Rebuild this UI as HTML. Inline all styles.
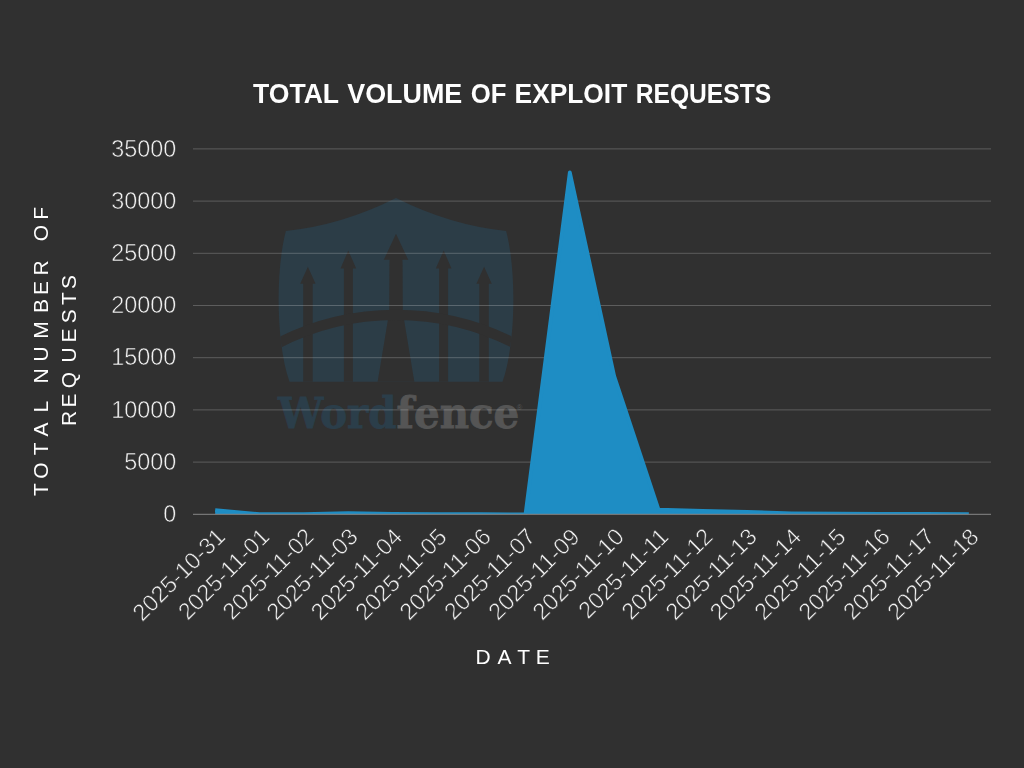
<!DOCTYPE html>
<html><head><meta charset="utf-8"><style>
html,body{margin:0;padding:0;background:#303030;}
svg{display:block}
.yl{font-family:"Liberation Sans",sans-serif;font-size:23.4px;fill:#f2f2f2;stroke:#303030;stroke-width:0.55px;paint-order:fill stroke}
.xl{font-family:"Liberation Sans",sans-serif;font-size:23.3px;fill:#f2f2f2;stroke:#303030;stroke-width:0.55px;paint-order:fill stroke}
.t{font-family:"Liberation Sans",sans-serif;font-size:27px;font-weight:bold;fill:#ffffff}
.at{font-family:"Liberation Sans",sans-serif;font-size:21px;fill:#ffffff}
</style></head><body>
<svg width="1024" height="768" viewBox="0 0 1024 768">
<rect width="1024" height="768" fill="#303030"/>
<g id="wm" opacity="0.999">
<clipPath id="sc"><path d="M285.9,231 Q341.3,225.5 396,198.1 Q450.7,225.5 506.1,231 C516.2,268 516.5,342 502.5,381.8 L289.5,381.8 C275.5,342 275.8,268 285.9,231 Z"/></clipPath><path d="M285.9,231 Q341.3,225.5 396,198.1 Q450.7,225.5 506.1,231 C516.2,268 516.5,342 502.5,381.8 L289.5,381.8 C275.5,342 275.8,268 285.9,231 Z" fill="#2c3d47"/>
<g clip-path="url(#sc)"><g fill="#303030">
<path d="M307.9,266.8 L315.6,283.8 L312.7,283.8 L312.7,382 L303.2,382 L303.2,283.8 L300.2,283.8 Z"/>
<path d="M348.3,250.5 L356.2,268.5 L352.9,268.5 L352.9,382 L343.9,382 L343.9,268.5 L340.5,268.5 Z"/>
<path d="M484.1,266.8 L491.8,283.8 L488.8,283.8 L488.8,382 L479.3,382 L479.3,283.8 L476.4,283.8 Z"/>
<path d="M443.7,250.5 L451.5,268.5 L448.1,268.5 L448.1,382 L439.1,382 L439.1,268.5 L435.8,268.5 Z"/>
<path d="M396,233.7 L408.2,259.8 L402.4,259.8 L402.6,265 L402.8,312 L414.4,382 L377.6,382 L389.2,312 L389.4,265 L389.6,259.8 L383.8,259.8 Z"/>
</g>
<path d="M270,347.4 A260,260 0 0 1 522,347.4" fill="none" stroke="#303030" stroke-width="10.2"/></g>
<text transform="translate(278.1 427.6) scale(0.962 1)" style="font:bold 42px 'DejaVu Serif',serif;stroke-width:0.8px"><tspan fill="#2b3e4a" stroke="#2b3e4a">Word</tspan><tspan fill="#555555" stroke="#555555">fence</tspan></text>
<text x="516.8" y="409.6" style="font:7.5px 'Liberation Sans',sans-serif" fill="#555555">®</text>
</g>
<line x1="193" y1="462.10" x2="991" y2="462.10" stroke="#ffffff" stroke-opacity="0.22" stroke-width="1"/>
<line x1="193" y1="409.90" x2="991" y2="409.90" stroke="#ffffff" stroke-opacity="0.22" stroke-width="1"/>
<line x1="193" y1="357.70" x2="991" y2="357.70" stroke="#ffffff" stroke-opacity="0.22" stroke-width="1"/>
<line x1="193" y1="305.50" x2="991" y2="305.50" stroke="#ffffff" stroke-opacity="0.22" stroke-width="1"/>
<line x1="193" y1="253.30" x2="991" y2="253.30" stroke="#ffffff" stroke-opacity="0.22" stroke-width="1"/>
<line x1="193" y1="201.10" x2="991" y2="201.10" stroke="#ffffff" stroke-opacity="0.22" stroke-width="1"/>
<line x1="193" y1="148.90" x2="991" y2="148.90" stroke="#ffffff" stroke-opacity="0.22" stroke-width="1"/>
<clipPath id="pc"><rect x="193" y="100" width="798" height="414.30"/></clipPath>
<g clip-path="url(#pc)"><path d="M215.17,514.3 L215.17,510.20 L259.50,514.14 L303.83,514.25 L348.17,513.20 L392.50,513.88 L436.83,514.20 L481.17,514.25 L525.50,514.30 L569.83,172.30 L614.17,376.10 L658.50,509.60 L702.83,511.00 L747.17,512.00 L791.50,513.30 L835.83,513.70 L880.17,513.90 L924.50,513.90 L968.83,514.17 L968.83,514.3 Z" fill="#1e8dc4"/><path d="M215.17,510.20 L259.50,514.14 L303.83,514.25 L348.17,513.20 L392.50,513.88 L436.83,514.20 L481.17,514.25 L525.50,514.30 L569.83,172.30 L614.17,376.10 L658.50,509.60 L702.83,511.00 L747.17,512.00 L791.50,513.30 L835.83,513.70 L880.17,513.90 L924.50,513.90 L968.83,514.17" fill="none" stroke="#1e8dc4" stroke-width="3.8" stroke-linejoin="round"/></g>
<line x1="193" y1="514.3" x2="991" y2="514.3" stroke="#878787" stroke-width="1"/>
<g opacity="0.999"><text x="163.25" y="521.90" class="yl">0</text>
<text x="124.25" y="469.70" class="yl">5000</text>
<text x="111.25" y="417.50" class="yl">10000</text>
<text x="111.25" y="365.30" class="yl">15000</text>
<text x="111.25" y="313.10" class="yl">20000</text>
<text x="111.25" y="260.90" class="yl">25000</text>
<text x="111.25" y="208.70" class="yl">30000</text>
<text x="111.25" y="156.50" class="yl">35000</text>
<text x="142.30" y="622.31" transform="rotate(-45 142.30 622.31)" class="xl">2025-10-31</text>
<text x="187.87" y="621.07" transform="rotate(-45 187.87 621.07)" class="xl">2025-11-01</text>
<text x="232.20" y="621.07" transform="rotate(-45 232.20 621.07)" class="xl">2025-11-02</text>
<text x="276.36" y="621.25" transform="rotate(-45 276.36 621.25)" class="xl">2025-11-03</text>
<text x="320.52" y="621.43" transform="rotate(-45 320.52 621.43)" class="xl">2025-11-04</text>
<text x="365.03" y="621.25" transform="rotate(-45 365.03 621.25)" class="xl">2025-11-05</text>
<text x="409.36" y="621.25" transform="rotate(-45 409.36 621.25)" class="xl">2025-11-06</text>
<text x="453.87" y="621.07" transform="rotate(-45 453.87 621.07)" class="xl">2025-11-07</text>
<text x="498.03" y="621.25" transform="rotate(-45 498.03 621.25)" class="xl">2025-11-09</text>
<text x="542.36" y="621.25" transform="rotate(-45 542.36 621.25)" class="xl">2025-11-10</text>
<text x="588.11" y="619.84" transform="rotate(-45 588.11 619.84)" class="xl">2025-11-11</text>
<text x="631.20" y="621.07" transform="rotate(-45 631.20 621.07)" class="xl">2025-11-12</text>
<text x="675.36" y="621.25" transform="rotate(-45 675.36 621.25)" class="xl">2025-11-13</text>
<text x="719.52" y="621.43" transform="rotate(-45 719.52 621.43)" class="xl">2025-11-14</text>
<text x="764.03" y="621.25" transform="rotate(-45 764.03 621.25)" class="xl">2025-11-15</text>
<text x="808.36" y="621.25" transform="rotate(-45 808.36 621.25)" class="xl">2025-11-16</text>
<text x="852.87" y="621.07" transform="rotate(-45 852.87 621.07)" class="xl">2025-11-17</text>
<text x="897.03" y="621.25" transform="rotate(-45 897.03 621.25)" class="xl">2025-11-18</text>
<text y="102.9" class="t"><tspan x="252.96" textLength="85.67" lengthAdjust="spacingAndGlyphs">TOTAL</tspan> <tspan x="347.25" textLength="115.05" lengthAdjust="spacingAndGlyphs">VOLUME</tspan> <tspan x="470.85" textLength="35.70" lengthAdjust="spacingAndGlyphs">OF</tspan> <tspan x="514.59" textLength="112.66" lengthAdjust="spacingAndGlyphs">EXPLOIT</tspan> <tspan x="635.70" textLength="135.53" lengthAdjust="spacingAndGlyphs">REQUESTS</tspan></text>
<text x="475.42 497.55 517.17 535.74" y="663.8" class="at">DATE</text>
<text transform="translate(48.3 500) rotate(-90)" x="4.07 21.26 44.77 63.45 87.47 92.47 116.41 138.41 161.35 186.97 205.14 224.42 229.42 258.76 280.35" y="0" class="at">TOTAL NUMBER OF</text>
<text transform="translate(75.9 500) rotate(-90)" x="74.12 92.54 111.86 137.51 157.44 176.82 195.07 210.92" y="0" class="at">REQUESTS</text></g>
</svg>
</body></html>
